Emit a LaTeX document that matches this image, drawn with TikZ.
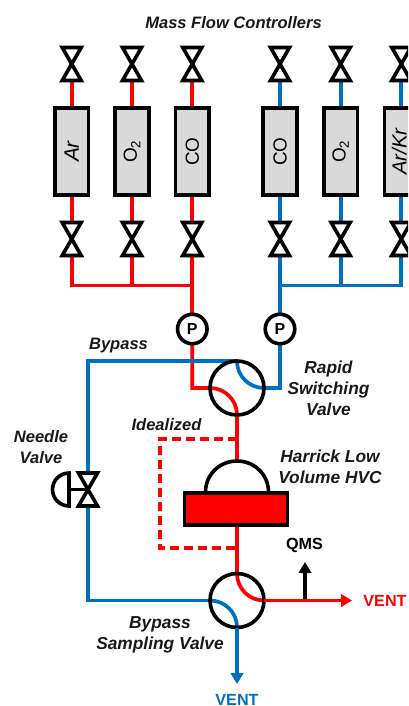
\documentclass[tikz,border=0pt]{standalone}
\usepackage{fontspec}
\setmainfont{Liberation Sans}
\usetikzlibrary{arrows.meta}
\definecolor{pipered}{HTML}{FF0000}
\definecolor{pipeblue}{HTML}{0070C0}
\definecolor{mfcgrey}{HTML}{D9D9D9}
\pgfdeclarelayer{pipes}
\pgfsetlayers{pipes,main}
\tikzset{
  redline/.style={draw=pipered,line width=3.7bp},
  blueline/.style={draw=pipeblue,line width=3.7bp},
  blackline/.style={draw=black,line width=3.6bp},
  dashline/.style={draw=pipered,line width=3.4bp,dash pattern=on 9bp off 5bp},
  valvebox/.style={inner sep=0pt,outer sep=0pt,minimum width=19bp,minimum height=33bp},
  mfc/.style={draw=black,line width=3.6bp,fill=mfcgrey,inner sep=0pt,outer sep=0pt,minimum width=33.5bp,minimum height=86.5bp,font=\fontsize{19}{19}\selectfont},
  gauge/.style={circle,draw=black,line width=3.6bp,fill=white,inner sep=0pt,outer sep=0pt,minimum size=29.5bp,font=\bfseries\fontsize{16}{16}\selectfont},
  switch/.style={circle,draw=black,line width=3.6bp,inner sep=0pt,outer sep=0pt,minimum size=54bp},
  lab/.style={font=\bfseries\itshape\fontsize{16.6}{21}\selectfont,align=center,inner sep=0pt,text=black!90},
  labwide/.style={lab,font=\bfseries\itshape\fontsize{17.4}{21}\selectfont},
  plain/.style={font=\bfseries\fontsize{16.2}{21}\selectfont,inner sep=0pt},
  tip/.style={-{Triangle[length=11bp,width=12.5bp]}}
}
\newcommand{\mkvalve}[3]{%
  \node[valvebox] (#1) at (#2,#3) {};
  \draw[blackline,fill=white,miter limit=2.5] (#1.north west) -- (#1.north east) -- (#1.south west) -- (#1.south east) -- cycle;
}
\begin{document}
\begin{tikzpicture}[x=1bp,y=-1bp]
\clip (0,0) rectangle (408,706);
% mass flow controllers
\node[mfc] (m1) at (71.7,151.5) {\rotatebox{90}{\fontsize{21}{21}\selectfont\itshape Ar}};
\node[mfc] (m2) at (132,151.5) {\rotatebox{90}{O\textsubscript{2}}};
\node[mfc] (m3) at (192.3,151.5) {\rotatebox{90}{CO}};
\node[mfc] (n1) at (280,151.5) {\rotatebox{90}{CO}};
\node[mfc] (n2) at (340.7,151.5) {\rotatebox{90}{O\textsubscript{2}}};
\node[mfc] (n3) at (401.3,151.5) {\hspace*{-4bp}\rotatebox{90}{\fontsize{20.5}{20.5}\selectfont\itshape Ar/Kr}};
% valves
\mkvalve{ta1}{71.7}{64}
\mkvalve{ta2}{132}{64}
\mkvalve{ta3}{192.3}{64}
\mkvalve{tb1}{280}{64}
\mkvalve{tb2}{340.7}{64}
\mkvalve{tb3}{401.3}{64}
\mkvalve{ba1}{71.7}{239}
\mkvalve{ba2}{132}{239}
\mkvalve{ba3}{192.3}{239}
\mkvalve{bb1}{280}{239}
\mkvalve{bb2}{340.7}{239}
\mkvalve{bb3}{401.3}{239}
\mkvalve{nv}{88}{489.5}
% pressure gauges and switching valves
\node[gauge] (p1) at (192.3,329) {P};
\node[gauge] (p2) at (280,329) {P};
\node[switch] (rsv) at (237,388) {};
\node[switch] (bsv) at (237,600.5) {};
\coordinate (ja) at (192.3,285.5);
\coordinate (jb) at (280,285.5);
% HVC cell
\node[draw=black,line width=3.6bp,fill=pipered,inner sep=0pt,outer sep=0pt,minimum width=103bp,minimum height=32bp] (hvc) at (236,509) {};
\coordinate (dl) at (205.5,492);
\coordinate (dt) at (237,461);
\coordinate (dr) at (268.5,492);
\draw[blackline] (dl) .. controls +(0,-17.4) and +(-17.4,0) .. (dt) .. controls +(17.4,0) and +(0,-17.4) .. (dr);
% arrow and handle ends
\coordinate (da) at (237,439);
\coordinate (db) at (160,439);
\coordinate (dc) at (160,548);
\coordinate (dd) at (237,548);
\coordinate (ve) at (352,600.5);
\coordinate (vs) at (237,684);
\coordinate (qb) at (305,600.5);
\coordinate (qt) at (305,562);
\coordinate (hs) at (69,489.5);
\coordinate (hm) at (52.5,489.5);
\coordinate (hu) at (69,473);
\coordinate (hd) at (69,506);
\begin{pgfonlayer}{pipes}
\foreach \v/\m/\w in {ta1/m1/ba1,ta2/m2/ba2,ta3/m3/ba3}{
  \draw[redline] (\v.south) -- (\m.north);
  \draw[redline] (\m.south) -- (\w.north);
}
\foreach \v/\m/\w in {tb1/n1/bb1,tb2/n2/bb2,tb3/n3/bb3}{
  \draw[blueline] (\v.south) -- (\m.north);
  \draw[blueline] (\m.south) -- (\w.north);
}
\draw[redline] (ba1.south) |- (ja);
\draw[redline] (ba2.south) -- (ba2.south |- ja);
\draw[redline] (ba3.south) -- (p1.north);
\draw[blueline] (bb3.south) |- (jb);
\draw[blueline] (bb2.south) -- (bb2.south |- jb);
\draw[blueline] (bb1.south) -- (p2.north);
% flows through rapid switching valve
\draw[redline] (p1.south) |- (rsv.west) .. controls +(15,0) and +(0,-15) .. (rsv.south);
\draw[blueline] (p2.south) |- (rsv.east) .. controls +(-15,0) and +(0,15) .. (rsv.north);
\draw[blueline] (rsv.north) -| (nv.north);
\draw[blueline] (nv.south) |- (bsv.west);
\draw[redline] (rsv.south) -- (dt);
\draw[redline] (hvc.south -| bsv.north) -- (bsv.north);
\draw[dashline] (da) -- (db) -- (dc) -- (dd);
% sampling valve flows
\draw[redline] (bsv.north) .. controls +(0,15) and +(-15,0) .. (bsv.east);
\draw[blueline] (bsv.west) .. controls +(15,0) and +(0,-15) .. (bsv.south);
\end{pgfonlayer}
\draw[draw=black,line width=3.2bp,tip] (qb) -- (qt);
\draw[redline,-{Triangle[length=11bp,width=12.5bp,fill=pipered]}] (bsv.east) -- (ve);
\draw[blueline,tip] (bsv.south) -- (vs);
% needle handle
\draw[blackline] (nv.center) -- (hs);
\draw[blackline] (hu) .. controls +(-9.1,0) and +(0,-9.1) .. (hm) .. controls +(0,9.1) and +(-9.1,0) .. (hd) -- cycle;
% labels
\node[lab] (t0) at (233.5,23) {Mass Flow Controllers};
\node[lab] (t1) at (118.5,346) {Bypass};
\node[labwide] (t2) at (328.5,388) {Rapid\\Switching\\Valve};
\node[lab] (t3) at (166.5,425) {Idealized};
\node[labwide] (t4) at (330,466.5) {Harrick Low\\Volume HVC};
\node[lab] (t5) at (41,447.5) {Needle\\Valve};
\node[labwide] (t6) at (160,634.5) {Bypass\\Sampling Valve};
\node[plain] (t7) at (304.5,545) {QMS};
\node[plain,text=pipered] (t8) at (385,601) {VENT};
\node[plain,text=pipeblue] (t9) at (237,700) {VENT};
\end{tikzpicture}
\end{document}
